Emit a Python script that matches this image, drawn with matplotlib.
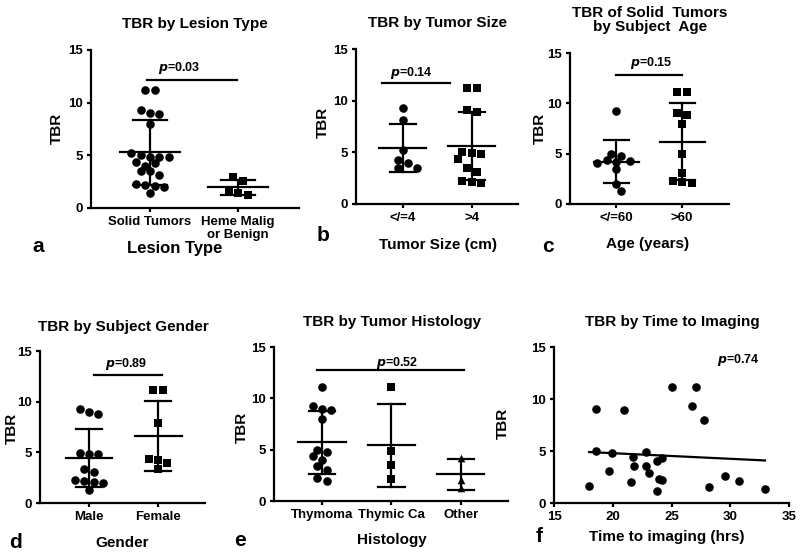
import numpy as np
import matplotlib
matplotlib.use("Agg")
import matplotlib.pyplot as plt

plt.rcParams['font.family'] = ['Liberation Sans', 'DejaVu Sans']
plt.rcParams['font.weight'] = 'bold'

# ---------------- data ----------------
# a: lesion type
a_cats = ["Solid Tumors", "Heme Malig\nor Benign"]
a_solid = [11.2, 11.2, 9.3, 9.0, 8.9, 8.0, 5.2, 5.0, 4.86, 4.8, 4.8, 4.4, 4.3, 4.0,
           3.5, 3.5, 3.1, 2.3, 2.2, 2.1, 2.0, 1.4]
a_heme = [2.95, 2.6, 1.5, 1.4, 1.2]
a_mean = [5.3, 1.95]
a_sd = [3.1, 0.75]
a_p = "0.03"

# b: tumor size
b_cats = ["</=4", ">4"]
b_small = [9.3, 8.1, 5.2, 4.3, 4.0, 3.5, 3.5]
b_large = [11.2, 11.2, 9.05, 8.9, 5.0, 4.9, 4.8, 4.4, 3.5, 3.1, 2.26, 2.13, 2.07]
b_mean = [5.4, 5.6]
b_sd = [2.35, 3.3]
b_p = "0.14"

# c: subject age
c_cats = ["</=60", ">60"]
c_young = [9.2, 4.96, 4.76, 4.4, 4.3, 4.2, 4.1, 3.46, 1.95, 1.32]
c_old = [11.13, 11.13, 9.0, 8.82, 7.93, 4.92, 3.04, 2.28, 2.21, 2.05]
c_mean = [4.2, 6.2]
c_sd = [2.12, 3.8]
c_p = "0.15"

# d: gender
d_cats = ["Male", "Female"]
d_male = [9.27, 8.94, 8.81, 4.95, 4.85, 4.81, 3.4, 3.05, 2.26, 2.16, 2.06, 1.93, 1.31]
d_female = [11.14, 11.14, 7.93, 4.32, 4.23, 3.93, 3.4]
d_mean = [4.42, 6.62]
d_sd = [2.88, 3.44]
d_p = "0.89"

# e: histology
e_cats = ["Thymoma", "Thymic Ca", "Other"]
e_thymoma = [11.11, 9.23, 9.0, 8.84, 7.94, 4.96, 4.73, 4.37, 3.95, 3.43, 3.01, 2.2, 1.98]
e_thymic = [11.11, 4.86, 3.5, 2.14]
e_other = [4.15, 2.04, 1.23]
e_mean = [5.73, 5.41, 2.59]
e_sd = [3.08, 4.0, 1.49]
e_p = "0.52"

# f: time to imaging
f_time = [18.57, 20.95, 25.06, 27.07, 26.76, 27.78, 18.57, 19.96, 21.74, 22.82, 23.73,
          24.15, 19.65, 21.83, 22.82, 23.05, 21.54, 23.95, 24.18, 23.78, 18.0, 28.17,
          29.56, 30.75, 32.96]
f_tbr = [9.0, 8.91, 11.19, 11.19, 9.33, 8.01, 5.03, 4.81, 4.42, 4.9, 4.0,
         4.33, 3.11, 3.53, 3.53, 2.88, 2.02, 2.31, 2.21, 1.19, 1.63, 1.51,
         2.63, 2.15, 1.38]
f_slope = -0.054
f_intercept = 5.87
f_p = "0.74"

# ---------------- layout helpers ----------------
W, H = 800, 560
fig = plt.figure(figsize=(8, 5.6), dpi=100)

TITLE_FS = 11
LABEL_FS = 11
TICK_FS = 9.5
P_FS = 9
LETTER_FS = 15
MS = 38


def add_ax(left, right, top, bottom):
    return fig.add_axes([left / W, 1 - bottom / H, (right - left) / W, (bottom - top) / H])


def ftext(x, y, s, **kw):
    fig.text(x / W, 1 - y / H, s, **kw)


def style(ax):
    for s in ['top', 'right']:
        ax.spines[s].set_visible(False)
    for s in ['left', 'bottom']:
        ax.spines[s].set_linewidth(1.6)
        ax.spines[s].set_color('black')
    ax.tick_params(width=1.6, length=3, labelsize=TICK_FS, pad=2.5, colors='black')
    ax.set_ylim(0, 15)
    ax.set_yticks([0, 5, 10, 15])
    for lab in ax.get_yticklabels() + ax.get_xticklabels():
        lab.set_fontweight('bold')


def swarm(values, px_per_unit_y, px_per_unit_x, d_px=9.4, row_px=5.0, dcol=7.0):
    """Column-scatter layout: rows of near-equal values are centred; rows that
    would collide with earlier points are placed point by point."""
    vals = np.asarray(values, dtype=float)
    order = np.argsort(-vals)
    offs = np.zeros(len(vals))
    rows, cur = [], []
    for i in order:
        if cur and (vals[cur[0]] - vals[i]) * px_per_unit_y > row_px:
            rows.append(cur)
            cur = []
        cur.append(i)
    if cur:
        rows.append(cur)
    placed = []  # (x_px, y_px)

    def free(x, y):
        return all((x - px) ** 2 + (y - py) ** 2 >= dcol ** 2 for px, py in placed)

    cands = [0.0]
    for k in range(1, 12):
        cands += [k * d_px / 2, -k * d_px / 2]
    for r in rows:
        n = len(r)
        pattern = [(k - (n - 1) / 2) * d_px for k in range(n)]
        ys = [vals[i] * px_per_unit_y for i in r]
        if all(free(x, y) for x, y in zip(pattern, ys)):
            for i, x, y in zip(r, pattern, ys):
                offs[i] = x
                placed.append((x, y))
        else:
            for i, y in zip(r, ys):
                for c in cands:
                    if free(c, y):
                        offs[i] = c
                        placed.append((c, y))
                        break
    return offs / px_per_unit_x


def cat_panel(box, cats, groups, markers, means, sds, xlim):
    left, right, top, bottom = box
    ax = add_ax(left, right, top, bottom)
    style(ax)
    ax.set_xlim(*xlim)
    pxx = (right - left) / (xlim[1] - xlim[0])
    pxy = (bottom - top) / 15.0
    for i, (g, m) in enumerate(zip(groups, markers)):
        offs = swarm(g, pxy, pxx)
        ax.scatter(i + offs, g, marker=m, s=MS if m != '^' else 30, color='black',
                   linewidths=0, zorder=3, clip_on=False)
        mu, sd = means[i], sds[i]
        ax.plot([i - 0.34, i + 0.34], [mu, mu], color='black', lw=1.6, zorder=4)
        ax.plot([i, i], [mu - sd, mu + sd], color='black', lw=1.6, zorder=4)
        for yy in (mu - sd, mu + sd):
            ax.plot([i - 0.19, i + 0.19], [yy, yy], color='black', lw=1.6, zorder=4)
    ax.set_xticks(range(len(cats)))
    ax.set_xticklabels(cats, fontweight='bold')
    return ax


def pbar(ax, x0, x1, ybar, xt, yt, p):
    ax.plot([x0, x1], [ybar, ybar], color='black', lw=1.6, clip_on=False)
    ax.text(xt, yt, r"$\mathbfit{p}$" + "=" + p, ha='center', va='center',
            fontsize=P_FS, fontweight='bold')


def labels(title, tx, ty, ylx, yly, xlab, xlx, xly, letter, lx, ly, xfs=LABEL_FS):
    ftext(tx, ty, title, ha='center', va='center', fontsize=TITLE_FS, fontweight='bold',
          linespacing=1.0)
    ftext(ylx, yly, "TBR", rotation=90, ha='center', va='center', fontsize=LABEL_FS,
          fontweight='bold')
    ftext(xlx, xly, xlab, ha='center', va='center', fontsize=xfs, fontweight='bold')
    ftext(lx, ly, letter, ha='center', va='center', fontsize=LETTER_FS, fontweight='bold')


# ---------------- panel a ----------------
ax = cat_panel((91, 299, 50, 208), a_cats, [a_solid, a_heme], ['o', 's'],
               a_mean, a_sd, (-0.67, 1.69))
pbar(ax, -0.04, 0.99, 12.15, 0.33, 13.3, a_p)
labels("TBR by Lesion Type", 195, 24, 57, 128, "Lesion Type", 175, 249, "a", 38, 246, xfs=12)

# ---------------- panel b ----------------
ax = cat_panel((356, 518, 49, 204), b_cats, [b_small, b_large], ['o', 's'],
               b_mean, b_sd, (-0.68, 1.67))
pbar(ax, -0.3, 0.68, 11.7, 0.12, 12.7, b_p)
labels("TBR by Tumor Size", 437, 23, 323, 122, "Tumor Size (cm)", 438, 245, "b", 323, 235)

# ---------------- panel c ----------------
ax = cat_panel((570, 729, 53, 204), c_cats, [c_young, c_old], ['o', 's'],
               c_mean, c_sd, (-0.70, 1.71))
pbar(ax, 0.0, 1.0, 12.8, 0.53, 14.0, c_p)
labels("TBR of Solid  Tumors\nby Subject  Age", 650, 20, 540, 128, "Age (years)", 648, 244,
       "c", 548, 246)

# ---------------- panel d ----------------
ax = cat_panel((40, 205, 351, 503), d_cats, [d_male, d_female], ['o', 's'],
               d_mean, d_sd, (-0.71, 1.68))
pbar(ax, 0.07, 1.06, 12.6, 0.54, 13.7, d_p)
labels("TBR by Subject Gender", 123, 327, 12, 428, "Gender", 122, 543, "d", 15, 543)

# ---------------- panel e ----------------
ax = cat_panel((274, 508, 347, 501), e_cats, [e_thymoma, e_thymic, e_other], ['o', 's', '^'],
               e_mean, e_sd, (-0.69, 2.68))
pbar(ax, -0.07, 2.04, 12.75, 1.08, 13.4, e_p)
labels("TBR by Tumor Histology", 392, 322, 242, 427, "Histology", 392, 540, "e", 240, 541)

# ---------------- panel f ----------------
ax = add_ax(554, 789, 347, 503)
style(ax)
ax.set_xlim(15, 35)
ax.set_xticks([15, 20, 25, 30, 35])
for lab in ax.get_xticklabels():
    lab.set_fontweight('bold')
ax.scatter(f_time, f_tbr, marker='o', s=MS, color='black', linewidths=0, zorder=3)
xs = np.array([min(f_time), max(f_time)])
ax.plot(xs, f_intercept + f_slope * xs, color='black', lw=1.6)
ax.text(30.7, 13.75, r"$\mathbfit{p}$" + "=" + f_p, ha='center', va='center',
        fontsize=P_FS, fontweight='bold')
labels("TBR by Time to Imaging", 672, 322, 503, 423, "Time to imaging (hrs)", 667, 537,
       "f", 539, 537)

fig.savefig("out.png", dpi=100)
